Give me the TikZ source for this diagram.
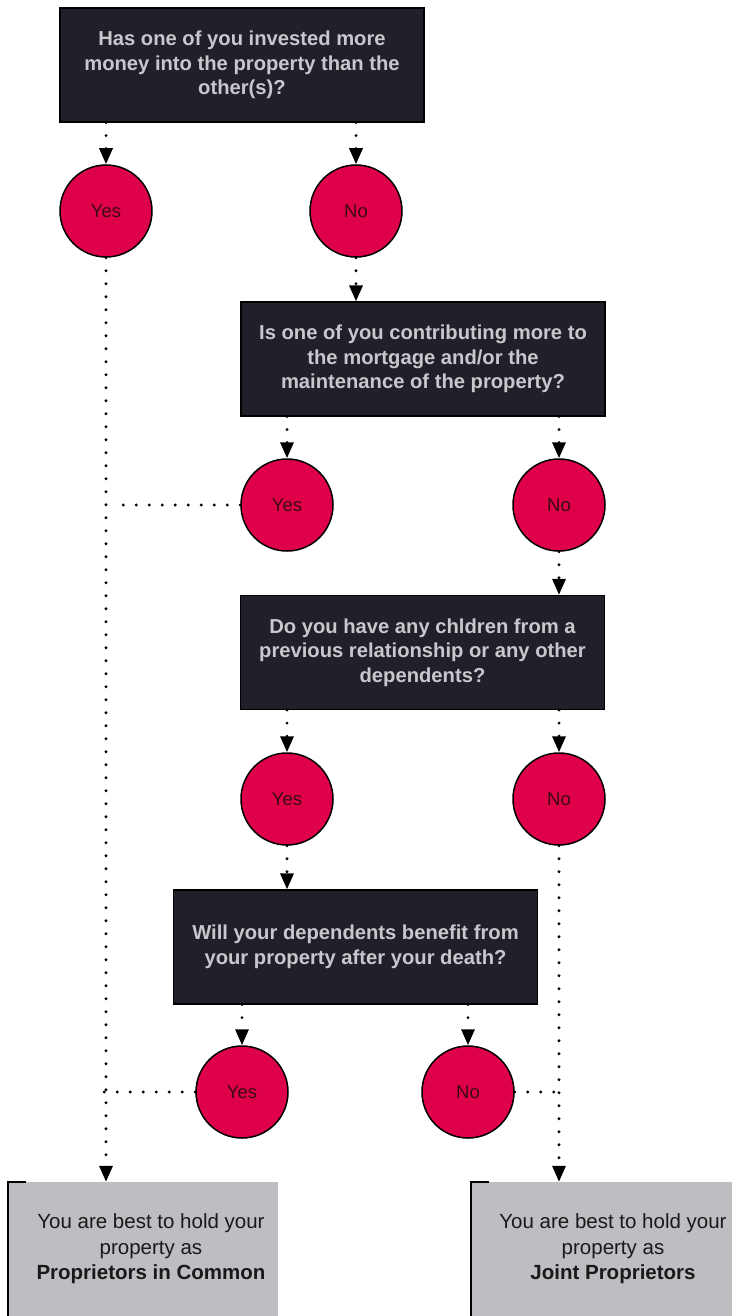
\documentclass[tikz,border=0pt]{standalone}
\usepackage{fontspec}
\setmainfont{Liberation Sans}
\usetikzlibrary{arrows.meta}
\definecolor{qfill}{HTML}{1F2029}
\definecolor{qtext}{HTML}{C8C8CC}
\definecolor{cfill}{HTML}{DE0048}
\definecolor{ctext}{HTML}{3A0A16}
\definecolor{rfill}{HTML}{BDBEC1}
\begin{document}
\begin{tikzpicture}[x=1pt,y=-1pt,
 question/.style={rectangle, fill=qfill, draw=black, line width=1.2pt, minimum width=364pt, minimum height=114pt, text=qtext, font=\fontsize{20.2}{24.5}\selectfont\bfseries, align=center},
 answer/.style={circle, fill=cfill, draw=black, line width=1.5pt, minimum size=92pt, inner sep=0pt, text=ctext, font=\fontsize{18.5}{20}\selectfont},
 result/.style={rectangle, fill=rfill, minimum width=270pt, minimum height=134pt, inner sep=0pt},
 restext/.style={align=center, font=\fontsize{20.5}{25.5}\selectfont, text=black!90},
 flow/.style={line width=3.2pt, dash pattern=on 0pt off 13pt, line cap=round, -{Triangle[width=13pt,length=16pt]}},
 link/.style={line width=3.2pt, dash pattern=on 0pt off 13pt, line cap=round},
 bracket/.style={line width=2pt, black}
]
\useasboundingbox (0,0) rectangle (731,1316);
\fill[white] (0,0) rectangle (731,1316);

\node[question] (q1) at (242,65) {Has one of you invested more\\money into the property than the\\other(s)?};
\node[answer] (y1) at (106,211) {Yes};
\node[answer] (n1) at (356,211) {No};

\node[question] (q2) at (423,359) {Is one of you contributing more to\\the mortgage and/or the\\maintenance of the property?};
\node[answer] (y2) at (287,505) {Yes};
\node[answer] (n2) at (559,505) {No};

\node[question] (q3) at (422.5,652.5) {Do you have any chldren from a\\previous relationship or any other\\dependents?};
\node[answer] (y3) at (287,799) {Yes};
\node[answer] (n3) at (559,799) {No};

\node[question] (q4) at (355.5,947) {Will your dependents benefit from\\your property after your death?};
\node[answer] (y4) at (242,1092) {Yes};
\node[answer] (n4) at (468,1092) {No};

\node[result] (r1) at (143,1249) {};
\node[result] (r2) at (606.5,1249) {};
\node[restext] (t1) at (151,1249) {You are best to hold your\\property as\\\textbf{Proprietors in Common}};
\node[restext] (t2) at (613,1249) {You are best to hold your\\property as\\\textbf{Joint Proprietors}};
\draw[bracket] ([xshift=18pt]r1.north west) -- (r1.north west) -- (r1.south west);
\draw[bracket] ([xshift=18pt]r2.north west) -- (r2.north west) -- (r2.south west);

\coordinate (j2) at (114,505);
\coordinate (j4) at (104,1092);
\coordinate (k4) at (558,1092);

\draw[flow] (q1.south -| y1) -- (y1.north);
\draw[flow] (q1.south -| n1) -- (n1.north);
\draw[flow] (n1.south) -- (n1.south |- q2.north);
\draw[flow] (q2.south -| y2) -- (y2.north);
\draw[flow] (q2.south -| n2) -- (n2.north);
\draw[flow] (n2.south) -- (n2.south |- q3.north);
\draw[flow] (q3.south -| y3) -- (y3.north);
\draw[flow] (q3.south -| n3) -- (n3.north);
\draw[flow] (y3.south) -- (y3.south |- q4.north);
\draw[flow] (q4.south -| y4) -- (y4.north);
\draw[flow] (q4.south -| n4) -- (n4.north);
\draw[flow] (y1.south) -- (y1.south |- r1.north);
\draw[flow] (n3.south) -- (n3.south |- r2.north);
\draw[link] (y2.west) -- (j2);
\draw[link] (y4.west) -- (j4);
\draw[link] (n4.east) -- (k4);
\end{tikzpicture}
\end{document}
